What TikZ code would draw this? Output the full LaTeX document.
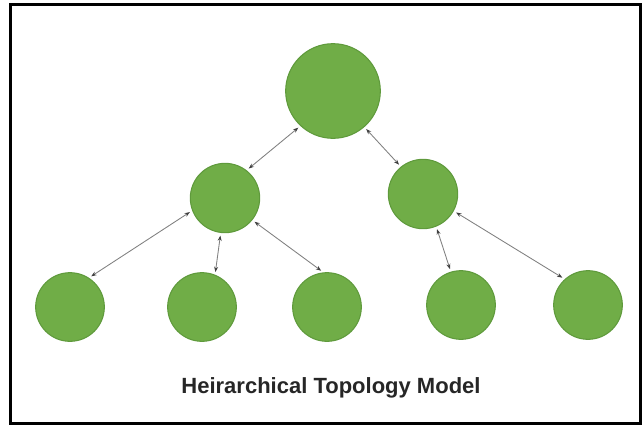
\documentclass[tikz,border=0pt]{standalone}
\usepackage{fontspec}
\setmainfont{Liberation Sans}
\usetikzlibrary{arrows.meta}
\definecolor{nodegreen}{HTML}{70AD47}
\definecolor{rimgreen}{HTML}{5F9A3C}
\tikzset{
  >={Stealth[length=4pt, width=3pt, color=black!75]},
  root/.style={circle, draw=rimgreen, fill=nodegreen, line width=0.8pt, minimum size=71pt, inner sep=0pt},
  hub/.style={root, minimum size=52pt},
  leaf/.style={root, minimum size=51.5pt},
  link/.style={<->, draw=black!50, line width=0.65pt, shorten <=2pt, shorten >=2pt},
  caption/.style={font=\bfseries\fontsize{16.5}{19}\selectfont, text=black!85}
}
\begin{document}
\begin{tikzpicture}[x=0.75pt, y=-0.75pt]
\useasboundingbox (0,0) rectangle (643,426);
\draw[line width=2pt] (10.5,4.5) rectangle (640.5,423.5);
\node[root] (top) at (333,91) {};
\node[hub] (hubl) at (225,198) {};
\node[hub] (hubr) at (423,194) {};
\foreach \n/\x/\y in {leafa/70/307, leafb/202/307, leafc/327/307, leafd/461/305, leafe/588/305} {\node[leaf] (\n) at (\x,\y) {};}
\foreach \a/\b in {top.227/hubl.52, top.-49/hubr.129, hubl.201/leafa.57, hubl.263/leafb.68, hubl.-39/leafc.96, hubr.-68/leafd.107, hubr.-29/leafe.132} {\draw[link] (\a) -- (\b);}
\node[caption] (title) at (331,388) {Heirarchical Topology Model};
\end{tikzpicture}
\end{document}
